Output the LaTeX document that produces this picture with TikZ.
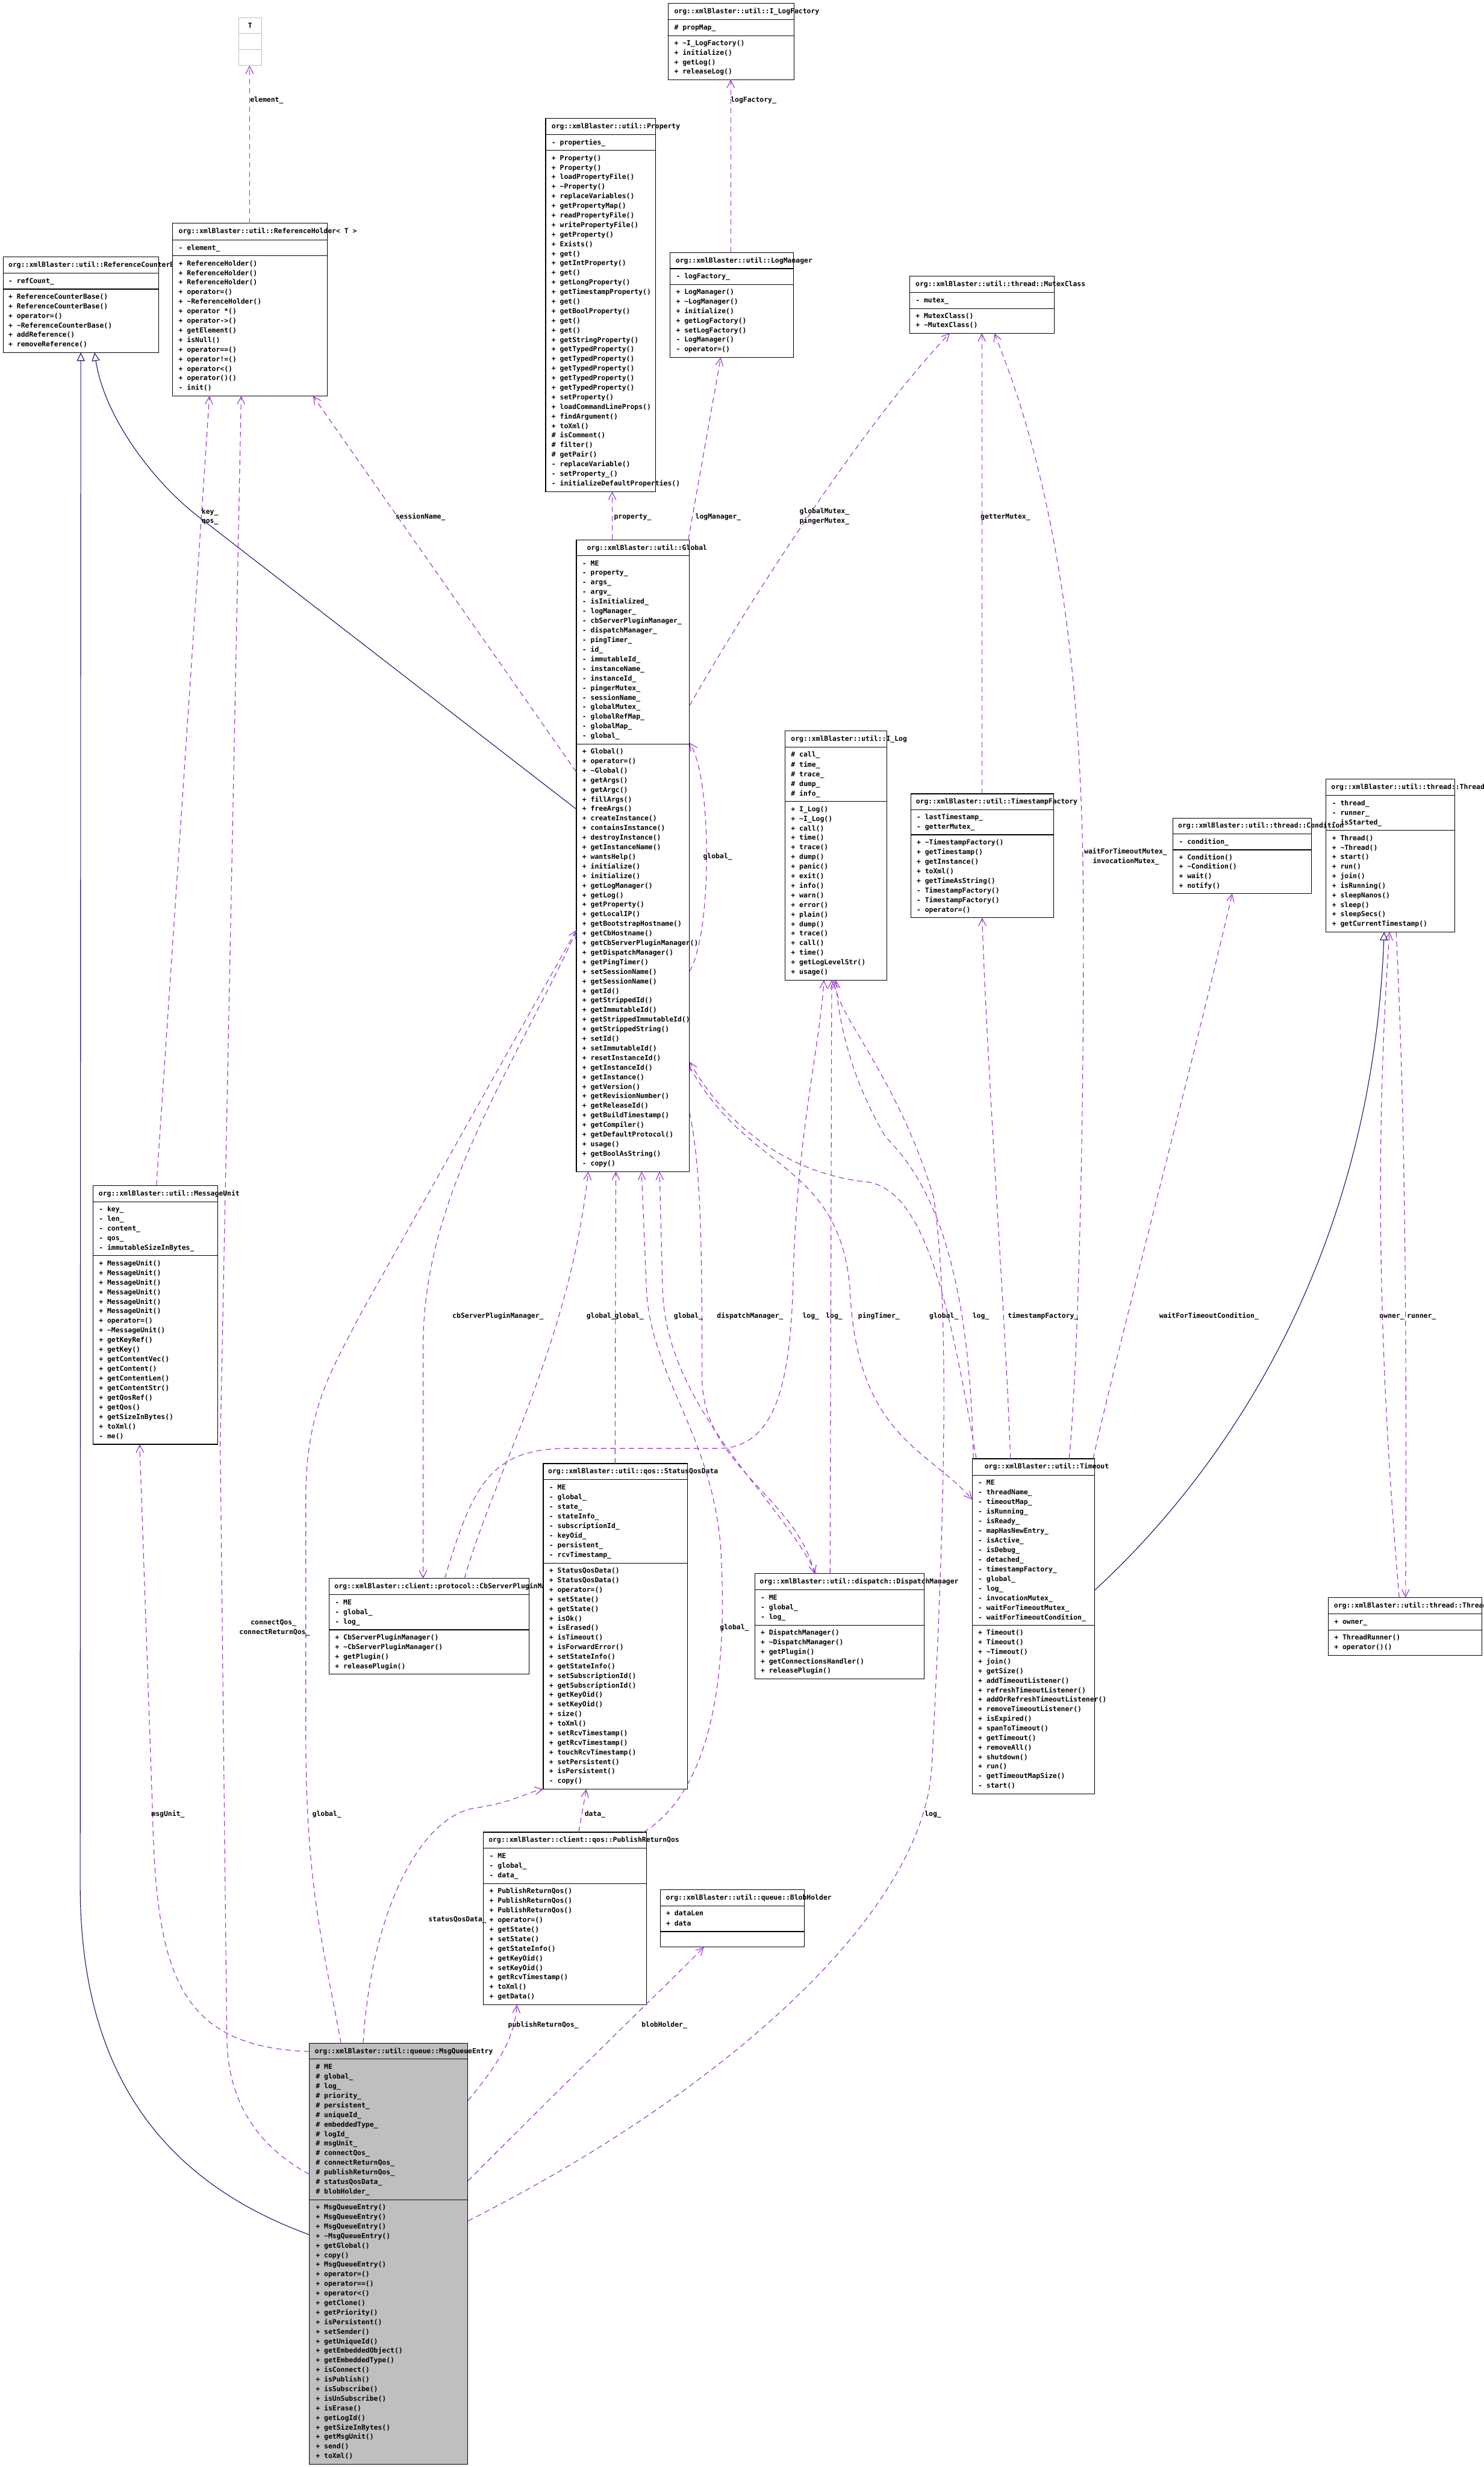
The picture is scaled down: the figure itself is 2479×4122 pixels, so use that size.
\documentclass[tikz,border=0pt]{standalone}
\usepackage{fontspec}
\setmonofont{DejaVu Sans Mono}
\usetikzlibrary{arrows.meta,calc}
\definecolor{depc}{HTML}{9A32CD}
\definecolor{inhc}{HTML}{191970}
\definecolor{mqgray}{HTML}{BFBFBF}
\newcommand\dfont{\fontsize{3.27pt}{4pt}\selectfont\ttfamily\bfseries}
\newcommand\tl{\textasciitilde}
\tikzset{
  txt/.style={anchor=base west, inner sep=0pt, outer sep=0pt, font=\dfont},
  cls/.style={draw=black, fill=white, line width=0.32pt, inner sep=0pt, outer sep=0pt, anchor=north west},
  sepl/.style={draw=black, line width=0.32pt},
  dep/.style={draw=depc, line width=0.32pt, dash pattern=on 2.6pt off 1.8pt, -{Straight Barb[length=3.6pt,width=3.6pt]}},
  inh/.style={draw=inhc, line width=0.32pt, -{Triangle[open,length=4pt,width=3.8pt,fill=white]}},
  lbl/.style={anchor=base west, inner sep=0pt, outer sep=0pt, font=\dfont},
}
% name, L, T, R, S1, S2, B
\newcommand\umlbox[8][cls]{%
  \pgfmathsetmacro\bw{(#5-#3)/100}\pgfmathsetmacro\bh{(#8-#4)/100}%
  \node[#1, minimum width=\bw cm, minimum height=\bh cm] (#2) at (#3,#4) {};
  \draw[sepl] (#3,#6) -- (#5,#6) (#3,#7) -- (#5,#7);
}
% name, x, a, b, n, list
\newcommand\umlsec[6]{%
  \pgfmathsetmacro\hh{(#4-#3-10)/#5}%
  \pgfmathsetmacro\bb{#3+8.5+\hh/2}%
  \foreach \t [count=\k from 0] in {#6} {\node[txt] (#1\k) at (#2,{\bb+\hh*\k}) {\t};}%
}
\begin{document}
\begin{tikzpicture}[x=0.01cm,y=-0.01cm]
\useasboundingbox (0,0) rectangle (2479,4122);
\fill[white] (0,0) rectangle (2479,4122);

% ---- T
\node[cls, draw=mqgray, minimum width=0.385cm, minimum height=0.8cm] (tb) at (399,29.5) {};
\draw[draw=mqgray, line width=0.32pt] (399,56) -- (437.5,56) (399,83) -- (437.5,83);
\node[txt] (tb-t) at (414.5,46.5) {T};

% ---- ReferenceCounterBase
\umlbox{rcb}{5.4}{429}{265}{456.5}{483}{589}
\node[txt] (rcb-t) at (14.3,446) {org::xmlBlaster::util::ReferenceCounterBase};
\umlsec{rcba}{14.3}{456.5}{483}{1}{- refCount\_}
\umlsec{rcbm}{14.3}{483}{589}{6}{+ ReferenceCounterBase(), + ReferenceCounterBase(), + operator=(), + \tl ReferenceCounterBase(), + addReference(), + removeReference()}

% ---- ReferenceHolder
\umlbox{rh}{288}{373}{547}{401}{427.5}{661.5}
\node[txt] (rh-t) at (298.5,390) {org::xmlBlaster::util::ReferenceHolder< T >};
\umlsec{rha}{298.5}{401}{427.5}{1}{- element\_}
\umlsec{rhm}{298.5}{427.5}{661.5}{14}{+ ReferenceHolder(), + ReferenceHolder(), + ReferenceHolder(), + operator=(), + \tl ReferenceHolder(), + operator *(), + operator->(), + getElement(), + isNull(), + operator==(), + operator!=(), + operator<(), + operator()(), - init()}

% ---- I_LogFactory
\umlbox{ilf}{1116.7}{5.3}{1327}{32.8}{59.8}{132.9}
\node[txt] (ilf-t) at (1126.7,22.3) {org::xmlBlaster::util::I\_LogFactory};
\umlsec{ilfa}{1126.7}{32.8}{59.8}{1}{\# propMap\_}
\umlsec{ilfm}{1126.7}{59.8}{132.9}{4}{+ \tl I\_LogFactory(), + initialize(), + getLog(), + releaseLog()}

% ---- Property
\umlbox{prop}{911.7}{197.4}{1095.3}{225}{251.4}{821}
\node[txt] (prop-t) at (921.7,214.4) {org::xmlBlaster::util::Property};
\umlsec{propa}{921.7}{225}{251.4}{1}{- properties\_}
\umlsec{propm}{921.7}{251.4}{821}{35}{+ Property(), + Property(), + loadPropertyFile(), + \tl Property(), + replaceVariables(), + getPropertyMap(), + readPropertyFile(), + writePropertyFile(), + getProperty(), + Exists(), + get(), + getIntProperty(), + get(), + getLongProperty(), + getTimestampProperty(), + get(), + getBoolProperty(), + get(), + get(), + getStringProperty(), + getTypedProperty(), + getTypedProperty(), + getTypedProperty(), + getTypedProperty(), + getTypedProperty(), + setProperty(), + loadCommandLineProps(), + findArgument(), + toXml(), \# isComment(), \# filter(), \# getPair(), - replaceVariable(), - setProperty\_(), - initializeDefaultProperties()}

% ---- LogManager
\umlbox{lm}{1119.7}{421.8}{1325.3}{448.8}{475.3}{597}
\node[txt] (lm-t) at (1129,438.8) {org::xmlBlaster::util::LogManager};
\umlsec{lma}{1129.7}{448.8}{475.3}{1}{- logFactory\_}
\umlsec{lmm}{1129.7}{475.3}{597}{7}{+ LogManager(), + \tl LogManager(), + initialize(), + getLogFactory(), + setLogFactory(), - LogManager(), - operator=()}

% ---- MutexClass
\umlbox{mc}{1519.9}{461.5}{1761.5}{488.9}{515.6}{556.7}
\node[txt] (mc-t) at (1529.8,478.5) {org::xmlBlaster::util::thread::MutexClass};
\umlsec{mca}{1529.9}{488.9}{515.6}{1}{- mutex\_}
\umlsec{mcm}{1529.9}{515.6}{556.7}{2}{+ MutexClass(), + \tl MutexClass()}

% ---- Global
\umlbox{gl}{963}{902}{1152}{928.5}{1243}{1957}
\node[txt] (gl-t) at (980.7,919) {org::xmlBlaster::util::Global};
\umlsec{gla}{973}{928.5}{1243}{19}{- ME, - property\_, - args\_, - argv\_, - isInitialized\_, - logManager\_, - cbServerPluginManager\_, - dispatchManager\_, - pingTimer\_, - id\_, - immutableId\_, - instanceName\_, - instanceId\_, - pingerMutex\_, - sessionName\_, - globalMutex\_, - globalRefMap\_, - globalMap\_, - global\_}
\umlsec{glm}{973}{1243}{1957}{44}{+ Global(), + operator=(), + \tl Global(), + getArgs(), + getArgc(), + fillArgs(), + freeArgs(), + createInstance(), + containsInstance(), + destroyInstance(), + getInstanceName(), + wantsHelp(), + initialize(), + initialize(), + getLogManager(), + getLog(), + getProperty(), + getLocalIP(), + getBootstrapHostname(), + getCbHostname(), + getCbServerPluginManager(), + getDispatchManager(), + getPingTimer(), + setSessionName(), + getSessionName(), + getId(), + getStrippedId(), + getImmutableId(), + getStrippedImmutableId(), + getStrippedString(), + setId(), + setImmutableId(), + resetInstanceId(), + getInstanceId(), + getInstance(), + getVersion(), + getRevisionNumber(), + getReleaseId(), + getBuildTimestamp(), + getCompiler(), + getDefaultProtocol(), + usage(), + getBoolAsString(), - copy()}

% ---- I_Log
\umlbox{il}{1311.7}{1221.3}{1481.3}{1248.3}{1339.3}{1637.3}
\node[txt] (il-t) at (1321.7,1238.3) {org::xmlBlaster::util::I\_Log};
\umlsec{ila}{1321.7}{1248.3}{1339.3}{5}{\# call\_, \# time\_, \# trace\_, \# dump\_, \# info\_}
\umlsec{ilm}{1321.7}{1339.3}{1637.3}{18}{+ I\_Log(), + \tl I\_Log(), + call(), + time(), + trace(), + dump(), + panic(), + exit(), + info(), + warn(), + error(), + plain(), + dump(), + trace(), + call(), + time(), + getLogLevelStr(), + usage()}

% ---- TimestampFactory
\umlbox{tf}{1521.7}{1326.4}{1760.3}{1353}{1394.8}{1533.2}
\node[txt] (tf-t) at (1530.4,1343.4) {org::xmlBlaster::util::TimestampFactory};
\umlsec{tfa}{1531.7}{1353}{1394.8}{2}{- lastTimestamp\_, - getterMutex\_}
\umlsec{tfm}{1531.7}{1394.8}{1533.2}{8}{+ \tl TimestampFactory(), + getTimestamp(), + getInstance(), + toXml(), + getTimeAsString(), - TimestampFactory(), - TimestampFactory(), - operator=()}

% ---- Thread
\umlbox{th}{2215.8}{1301.9}{2430.8}{1329.2}{1387.6}{1557}
\node[txt] (th-t) at (2224.4,1318.9) {org::xmlBlaster::util::thread::Thread};
\umlsec{tha}{2225.8}{1329.2}{1387.6}{3}{- thread\_, - runner\_, - isStarted\_}
\umlsec{thm}{2225.8}{1387.6}{1557}{10}{+ Thread(), + \tl Thread(), + start(), + run(), + join(), + isRunning(), + sleepNanos(), + sleep(), + sleepSecs(), + getCurrentTimestamp()}

% ---- Condition
\umlbox{cond}{1959.9}{1366.7}{2191}{1393.4}{1420}{1492.8}
\node[txt] (cond-t) at (1968.6,1383.7) {org::xmlBlaster::util::thread::Condition};
\umlsec{conda}{1969.9}{1393.4}{1420}{1}{- condition\_}
\umlsec{condm}{1969.9}{1420}{1492.8}{4}{+ Condition(), + \tl Condition(), + wait(), + notify()}

% ---- MessageUnit
\umlbox{mu}{155.3}{1981}{363.3}{2008}{2098}{2413}
\node[txt] (mu-t) at (165,1998) {org::xmlBlaster::util::MessageUnit};
\umlsec{mua}{165.3}{2008}{2098}{5}{- key\_, - len\_, - content\_, - qos\_, - immutableSizeInBytes\_}
\umlsec{mum}{165.3}{2098}{2413}{19}{+ MessageUnit(), + MessageUnit(), + MessageUnit(), + MessageUnit(), + MessageUnit(), + MessageUnit(), + operator=(), + \tl MessageUnit(), + getKeyRef(), + getKey(), + getContentVec(), + getContent(), + getContentLen(), + getContentStr(), + getQosRef(), + getQos(), + getSizeInBytes(), + toXml(), - me()}

% ---- CbServerPluginManager
\umlbox{cb}{550}{2637.5}{883.7}{2664.3}{2723.2}{2797.1}
\node[txt] (cb-t) at (559,2654.5) {org::xmlBlaster::client::protocol::CbServerPluginManager};
\umlsec{cba}{560}{2664.3}{2723.2}{3}{- ME, - global\_, - log\_}
\umlsec{cbm}{560}{2723.2}{2797.1}{4}{+ CbServerPluginManager(), + \tl CbServerPluginManager(), + getPlugin(), + releasePlugin()}

% ---- StatusQosData
\umlbox{sqd}{907.7}{2445.4}{1149}{2472.5}{2611.8}{2989}
\node[txt] (sqd-t) at (916,2462.4) {org::xmlBlaster::util::qos::StatusQosData};
\umlsec{sqda}{917.7}{2472.5}{2611.8}{8}{- ME, - global\_, - state\_, - stateInfo\_, - subscriptionId\_, - keyOid\_, - persistent\_, - rcvTimestamp\_}
\umlsec{sqdm}{917.7}{2611.8}{2989}{23}{+ StatusQosData(), + StatusQosData(), + operator=(), + setState(), + getState(), + isOk(), + isErased(), + isTimeout(), + isForwardError(), + setStateInfo(), + getStateInfo(), + setSubscriptionId(), + getSubscriptionId(), + getKeyOid(), + setKeyOid(), + size(), + toXml(), + setRcvTimestamp(), + getRcvTimestamp(), + touchRcvTimestamp(), + setPersistent(), + isPersistent(), - copy()}

% ---- DispatchManager
\umlbox{dm}{1261}{2629.3}{1544}{2656.4}{2715.3}{2805}
\node[txt] (dm-t) at (1269.4,2646.3) {org::xmlBlaster::util::dispatch::DispatchManager};
\umlsec{dma}{1271}{2656.4}{2715.3}{3}{- ME, - global\_, - log\_}
\umlsec{dmm}{1271}{2715.3}{2805}{5}{+ DispatchManager(), + \tl DispatchManager(), + getPlugin(), + getConnectionsHandler(), + releasePlugin()}

% ---- Timeout
\umlbox{to}{1624.4}{2437.4}{1829.3}{2464.8}{2715.6}{2997}
\node[txt] (to-t) at (1645.2,2454.4) {org::xmlBlaster::util::Timeout};
\umlsec{toa}{1634.4}{2464.8}{2715.6}{15}{- ME, - threadName\_, - timeoutMap\_, - isRunning\_, - isReady\_, - mapHasNewEntry\_, - isActive\_, - isDebug\_, - detached\_, - timestampFactory\_, - global\_, - log\_, - invocationMutex\_, - waitForTimeoutMutex\_, - waitForTimeoutCondition\_}
\umlsec{tom}{1634.4}{2715.6}{2997}{17}{+ Timeout(), + Timeout(), + \tl Timeout(), + join(), + getSize(), + addTimeoutListener(), + refreshTimeoutListener(), + addOrRefreshTimeoutListener(), + removeTimeoutListener(), + isExpired(), + spanToTimeout(), + getTimeout(), + removeAll(), + shutdown(), + run(), - getTimeoutMapSize(), - start()}

% ---- ThreadRunner
\umlbox{tr}{2219.3}{2669.3}{2475.7}{2696.3}{2723.7}{2765.5}
\node[txt] (tr-t) at (2229,2686.3) {org::xmlBlaster::util::thread::ThreadRunner};
\umlsec{tra}{2229.3}{2696.3}{2723.7}{1}{+ owner\_}
\umlsec{trm}{2229.3}{2723.7}{2765.5}{2}{+ ThreadRunner(), + operator()()}

% ---- PublishReturnQos
\umlbox{prq}{807.8}{3061.3}{1080.3}{3088.3}{3147.3}{3349.3}
\node[txt] (prq-t) at (816.5,3078.3) {org::xmlBlaster::client::qos::PublishReturnQos};
\umlsec{prqa}{817.8}{3088.3}{3147.3}{3}{- ME, - global\_, - data\_}
\umlsec{prqm}{817.8}{3147.3}{3349.3}{12}{+ PublishReturnQos(), + PublishReturnQos(), + PublishReturnQos(), + operator=(), + getState(), + setState(), + getStateInfo(), + getKeyOid(), + setKeyOid(), + getRcvTimestamp(), + toXml(), + getData()}

% ---- BlobHolder
\umlbox{bh}{1103.2}{3157.3}{1343.4}{3184.3}{3227.3}{3253.3}
\node[txt] (bh-t) at (1112.6,3174.3) {org::xmlBlaster::util::queue::BlobHolder};
\umlsec{bha}{1113.2}{3184.3}{3227.3}{2}{+ dataLen, + data}

% ---- MsgQueueEntry
\umlbox[cls, fill=mqgray]{mqe}{516.7}{3413.8}{781.7}{3440.5}{3675.4}{4117}
\node[txt] (mqe-t) at (526,3430.8) {org::xmlBlaster::util::queue::MsgQueueEntry};
\umlsec{mqea}{527.7}{3440.5}{3675.4}{14}{\# ME, \# global\_, \# log\_, \# priority\_, \# persistent\_, \# uniqueId\_, \# embeddedType\_, \# logId\_, \# msgUnit\_, \# connectQos\_, \# connectReturnQos\_, \# publishReturnQos\_, \# statusQosData\_, \# blobHolder\_}
\umlsec{mqem}{527.7}{3675.4}{4117}{27}{+ MsgQueueEntry(), + MsgQueueEntry(), + MsgQueueEntry(), + \tl MsgQueueEntry(), + getGlobal(), + copy(), + MsgQueueEntry(), + operator=(), + operator==(), + operator<(), + getClone(), + getPriority(), + isPersistent(), + setSender(), + getUniqueId(), + getEmbeddedObject(), + getEmbeddedType(), + isConnect(), + isPublish(), + isSubscribe(), + isUnSubscribe(), + isErase(), + getLogId(), + getSizeInBytes(), + getMsgUnit(), + send(), + toXml()}

% ================= connectors
% inheritance
\draw[inh] ($(gl.north west)+(0,450)$) -- (330,862) .. controls (260,808) and (175,700) .. ($(rcb.south west)+(152.6,0)$);
\draw[inh] ($(mqe.north west)+(0,320)$) .. controls (260,3640) and (134,3450) .. (134,3150) -- ($(rcb.south west)+(129.6,0)$);
\draw[inh] ($(to.north east)+(0,219.3)$) .. controls (2000,2500) and (2290,2150) .. ($(th.south west)+(97,0)$);

% usage
\draw[dep] ($(rh.north west)+(129,0)$) -- ($(tb.south west)+(18,0)$);
\draw[dep] ($(lm.north west)+(101.3,0)$) -- ($(ilf.south west)+(104.3,0)$);
\draw[dep] ($(gl.north west)+(60,0)$) -- ($(prop.south west)+(111.3,0)$);
\draw[dep] ($(gl.north west)+(187,0)$) -- ($(lm.south west)+(84.6,0)$);
\draw[dep] ($(gl.north east)+(0,277)$) .. controls (1260,990) and (1450,700) .. ($(mc.south west)+(67,0)$);
\draw[dep] ($(gl.north west)+(0,388)$) -- ($(rh.south west)+(235,0)$);
\draw[dep] ($(mu.north west)+(106,0)$) -- ($(rh.south west)+(62,0)$);
\draw[dep] ($(gl.north east)+(0,721)$) .. controls (1190,1560) and (1190,1300) .. ($(gl.north east)+(0,339)$);
\draw[dep] ($(tf.north west)+(118.7,0)$) -- ($(mc.south west)+(120.5,0)$);
\draw[dep] ($(to.north west)+(162,0)$) .. controls (1800,2300) and (1812,1900) .. (1810,1500) .. controls (1808,1100) and (1760,800) .. ($(mc.south west)+(141.5,0)$);
\draw[dep] ($(to.north west)+(64,0)$) .. controls (1680,2200) and (1650,1800) .. ($(tf.south west)+(119.3,0)$);
\draw[dep] ($(to.north west)+(202,0)$) .. controls (1880,2200) and (2000,1750) .. ($(cond.south west)+(99,0)$);
\draw[dep] ($(tr.north west)+(118.7,0)$) .. controls (2315,2400) and (2290,2000) .. ($(th.south west)+(106,0)$);
\draw[dep] ($(th.south west)+(117,0)$) .. controls (2350,1900) and (2350,2300) .. ($(tr.north west)+(129.3,0)$);
% Global <-> CbServerPluginManager
\draw[dep] ($(gl.north west)+(0,654)$) .. controls (850,1800) and (707,2000) .. (707,2250) -- ($(cb.north west)+(157,0)$);
\draw[dep] ($(cb.north west)+(226,0)$) .. controls (830,2450) and (950,2250) .. ($(gl.south west)+(20,0)$);
\draw[dep] ($(cb.north west)+(193,0)$) .. controls (790,2480) and (820,2420) .. (950,2420) -- (1200,2420) .. controls (1300,2420) and (1320,2300) .. (1325,2150) .. controls (1330,1900) and (1370,1750) .. ($(il.south west)+(65,0)$);
\draw[dep] ($(sqd.north west)+(120,0)$) -- ($(gl.south west)+(66,0)$);
\draw[dep] ($(prq.north east)+(-5,0)$) .. controls (1190,2990) and (1215,2800) .. (1205,2600) .. controls (1195,2400) and (1085,2300) .. (1080,2150) -- ($(gl.south west)+(109,0)$);
\draw[dep] ($(dm.north west)+(103,0)$) .. controls (1300,2500) and (1110,2350) .. (1107,2150) -- ($(gl.south west)+(139,0)$);
\draw[dep] ($(gl.north east)+(0,957)$) .. controls (1172,1950) and (1173,2100) .. (1173,2300) .. controls (1173,2450) and (1330,2500) .. ($(dm.north west)+(100,0)$);
\draw[dep] ($(dm.north west)+(126,0)$) -- ($(il.south west)+(78,0)$);
\draw[dep] ($(gl.north east)+(0,880)$) .. controls (1250,1960) and (1400,1940) .. (1420,2150) .. controls (1430,2400) and (1550,2420) .. ($(to.north west)+(0,68)$);
\draw[dep] ($(to.north west)+(7,0)$) .. controls (1590,2200) and (1550,1990) .. (1450,1975) .. controls (1300,1960) and (1200,1860) .. ($(gl.north east)+(0,872)$);
\draw[dep] ($(to.north west)+(2,0)$) .. controls (1620,2100) and (1550,1970) .. (1480,1900) .. controls (1420,1800) and (1400,1700) .. ($(il.south west)+(85,0)$);
% MsgQueueEntry
\draw[dep] ($(mqe.north west)+(0,14)$) .. controls (300,3420) and (261,3300) .. (255,3030) -- ($(mu.south west)+(78,0)$);
\draw[dep] ($(mqe.north west)+(0,219)$) .. controls (420,3580) and (379,3500) .. (379,3400) -- (368,2415) -- ($(rh.south west)+(115,0)$);
\draw[dep] ($(mqe.north west)+(53,0)$) .. controls (540,3250) and (511,3150) .. (511,2900) -- (511,2500) .. controls (511,2350) and (560,2280) .. (600,2200) -- ($(gl.north west)+(0,652)$);
\draw[dep] ($(mqe.north west)+(90,0)$) .. controls (620,3200) and (700,3030) .. (800,3020) .. controls (860,3010) and (880,2995) .. ($(sqd.south west)+(0,0)$);
\draw[dep] ($(prq.north west)+(159,0)$) -- ($(sqd.south west)+(72,0)$);
\draw[dep] ($(mqe.north east)+(0,96)$) .. controls (840,3440) and (860,3400) .. ($(prq.south west)+(56,0)$);
\draw[dep] ($(mqe.north east)+(0,230)$) .. controls (985,3440) and (1100,3330) .. ($(bh.south west)+(73,0)$);
\draw[dep] ($(mqe.north east)+(0,297)$) .. controls (1200,3500) and (1545,3200) .. (1557,2950) .. controls (1575,2600) and (1590,2200) .. (1560,2000) .. controls (1500,1800) and (1400,1700) .. ($(il.south west)+(81,0)$);

% ================= labels
\node[lbl] (l1) at (418,170.5) {element\_};
\node[lbl] (l2) at (1221,170.5) {logFactory\_};
\node[lbl] (l3) at (1026,866.5) {property\_};
\node[lbl] (l4) at (1162,866.5) {logManager\_};
\node[lbl] (l5) at (661,866.5) {sessionName\_};
\node[lbl] (l6) at (337,858.5) {key\_};
\node[lbl] (l7) at (337,874.5) {qos\_};
\node[lbl] (l8) at (1336,858) {globalMutex\_};
\node[lbl] (l9) at (1336,874.5) {pingerMutex\_};
\node[lbl] (l10) at (1638.5,866.5) {getterMutex\_};
\node[lbl] (l11) at (1175,1434.5) {global\_};
\node[lbl] (l12) at (1811.6,1426.5) {waitForTimeoutMutex\_};
\node[lbl] (l13) at (1826,1442.5) {invocationMutex\_};
\node[lbl] (l14) at (756,2202.5) {cbServerPluginManager\_};
\node[lbl] (l15) at (980,2202.5) {global\_};
\node[lbl] (l16) at (1027,2202.5) {global\_};
\node[lbl] (l17) at (1126,2202.5) {global\_};
\node[lbl] (l18) at (1198,2202.5) {dispatchManager\_};
\node[lbl] (l19) at (1341,2202.5) {log\_};
\node[lbl] (l20) at (1380,2202.5) {log\_};
\node[lbl] (l21) at (1434,2202.5) {pingTimer\_};
\node[lbl] (l22) at (1553,2202.5) {global\_};
\node[lbl] (l23) at (1625,2202.5) {log\_};
\node[lbl] (l24) at (1684,2202.5) {timestampFactory\_};
\node[lbl] (l25) at (1937,2202.5) {waitForTimeoutCondition\_};
\node[lbl] (l26) at (2305,2202.5) {owner\_};
\node[lbl] (l27) at (2351,2202.5) {runner\_};
\node[lbl] (l28) at (419,2714.5) {connectQos\_};
\node[lbl] (l29) at (400,2730.5) {connectReturnQos\_};
\node[lbl] (l30) at (1203,2722.5) {global\_};
\node[lbl] (l31) at (253,3034.5) {msgUnit\_};
\node[lbl] (l32) at (522,3034.5) {global\_};
\node[lbl] (l33) at (977,3034.5) {data\_};
\node[lbl] (l34) at (1545,3034.5) {log\_};
\node[lbl] (l35) at (716,3210.5) {statusQosData\_};
\node[lbl] (l36) at (849,3386.5) {publishReturnQos\_};
\node[lbl] (l37) at (1072,3386.5) {blobHolder\_};
\end{tikzpicture}
\end{document}
